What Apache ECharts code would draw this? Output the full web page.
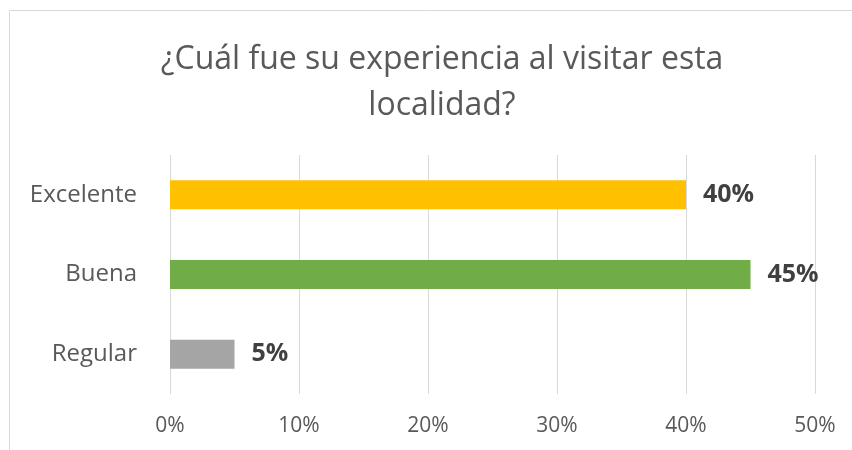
<!DOCTYPE html>
<html>
<head>
<meta charset="utf-8">
<script src="https://cdn.jsdelivr.net/npm/echarts@6/dist/echarts.min.js"></script>
<style>
html, body { margin: 0; padding: 0; background: #fff; }
#chart { width: 852px; height: 450px; }
</style>
</head>
<body>
<div id="chart"></div>
<script>
// data
var categories = ["Excelente", "Buena", "Regular"];
var values = [40, 45, 5];
var barColors = ["#FFC000", "#70AD47", "#A5A5A5"];
var xTicks = [0, 10, 20, 30, 40, 50];

var myChart = echarts.init(document.getElementById("chart"));

var option = {
  animation: false,
  graphic: [
    {
      type: "rect",
      shape: { x: 9.5, y: 10.5, width: 900, height: 500 },
      style: { fill: "none", stroke: "#D9D9D9", lineWidth: 1 }
    }
  ],
  title: {
    text: "¿Cuál fue su experiencia al visitar esta\nlocalidad?",
    left: 437,
    top: 32,
    textAlign: "center",
    textStyle: {
      color: "#595959",
      fontFamily: "Open Sans",
      fontWeight: "normal",
      fontSize: 32,
      lineHeight: 46
    }
  },
  grid: {
    left: 170,
    right: 37,
    top: 155,
    bottom: 56,
    containLabel: false
  },
  xAxis: {
    type: "value",
    min: xTicks[0],
    max: xTicks[xTicks.length - 1],
    interval: 10,
    axisLine: { show: false },
    axisTick: { show: false },
    splitLine: { show: true, lineStyle: { color: "#D9D9D9", width: 1 } },
    axisLabel: {
      margin: 22,
      color: "#595959",
      fontFamily: "Open Sans",
      fontSize: 21,
      formatter: "{value}%"
    }
  },
  yAxis: {
    type: "category",
    inverse: true,
    data: categories,
    axisLine: { show: false },
    axisTick: { show: false },
    axisLabel: {
      margin: 33,
      color: "#595959",
      fontFamily: "Open Sans",
      fontSize: 24
    }
  },
  series: [
    {
      type: "bar",
      barWidth: 29,
      data: values.map(function (v, i) {
        return { value: v, itemStyle: { color: barColors[i] } };
      }),
      label: {
        show: true,
        position: "right",
        distance: 17,
        formatter: "{c}%",
        color: "#404040",
        fontFamily: "Open Sans",
        fontWeight: "bold",
        fontSize: 25
      }
    }
  ]
};

myChart.setOption(option);
</script>
</body>
</html>
